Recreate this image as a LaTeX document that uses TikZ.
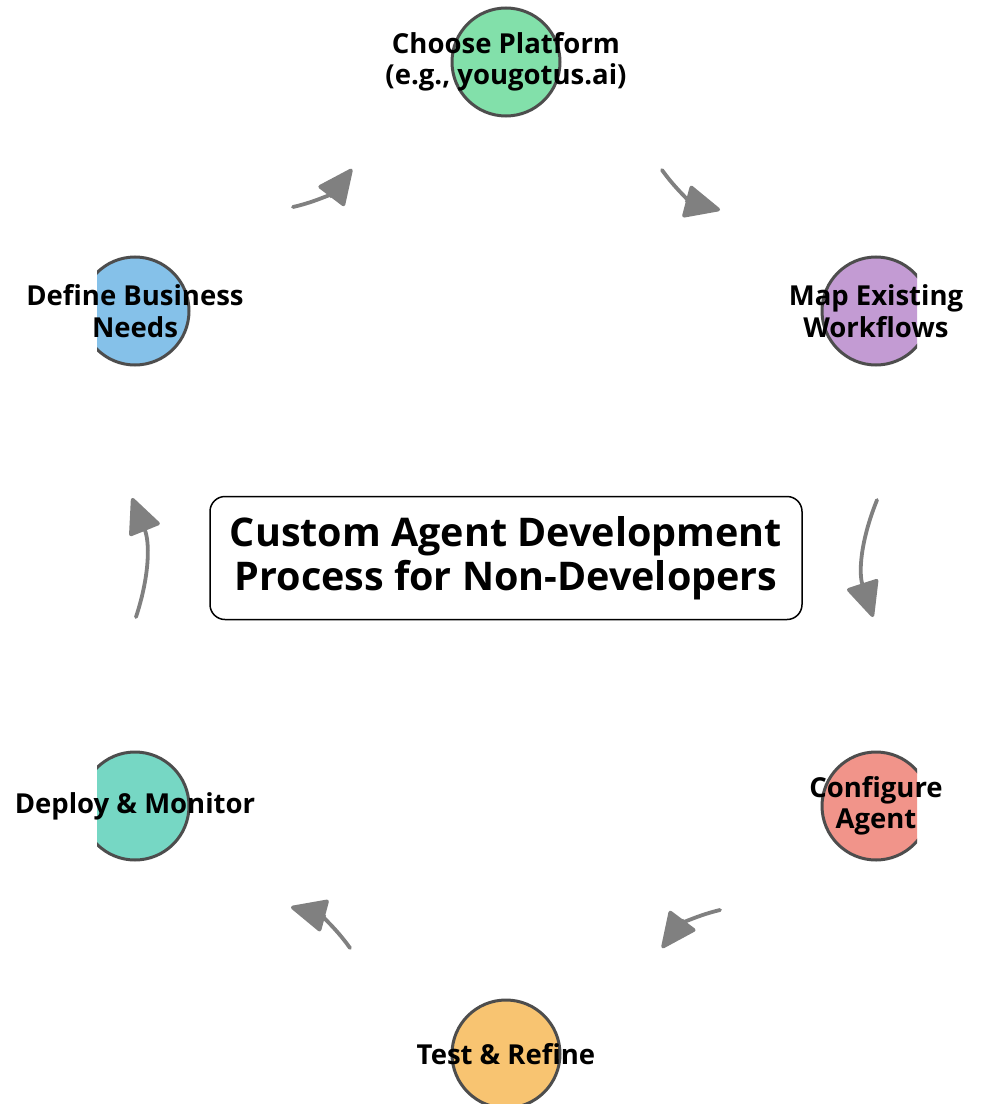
\documentclass[tikz,border=0pt]{standalone}
\usepackage{fontspec}
\setmainfont{Open Sans}
\usetikzlibrary{arrows.meta}

\definecolor{platgreen}{HTML}{82E0AA}
\definecolor{mappurple}{HTML}{C39BD3}
\definecolor{confred}{HTML}{F1948A}
\definecolor{testorange}{HTML}{F8C471}
\definecolor{deployteal}{HTML}{76D7C4}
\definecolor{needsblue}{HTML}{85C1E9}
\definecolor{rimgray}{HTML}{4D4D4D}
\definecolor{flowgray}{HTML}{808080}

\tikzset{
  stage/.style={draw=rimgray, circle, line width=3pt, minimum size=108pt, inner sep=0pt},
  stagetext/.style={align=center, font=\fontsize{27.5}{31.5}\selectfont\bfseries},
  flow/.style={draw=flowgray, line width=3.8pt, line cap=round,
    -{Triangle[length=38pt,width=34pt,round]}},
  titlebox/.style={draw=black, line width=1.5pt, rounded corners=15pt, fill=white,
    minimum width=592pt, minimum height=123pt, align=center,
    font=\fontsize{39.5}{44}\selectfont\bfseries}
}

\begin{document}
\begin{tikzpicture}[x=1pt,y=-1pt]
  \useasboundingbox (0,0) rectangle (980,1118);
  % stage circles, cut by the plot area
  \begin{scope}
    \clip (97,0) rectangle (917,1103);
    \node[stage, fill=platgreen] (plat) at (506,62) {};
    \node[stage, fill=mappurple] (map) at (876,311) {};
    \node[stage, fill=confred] (conf) at (876,806) {};
    \node[stage, fill=testorange] (test) at (506,1054) {};
    \node[stage, fill=deployteal] (deploy) at (135,806) {};
    \node[stage, fill=needsblue] (needs) at (135,311) {};
  \end{scope}
  % labels
  \node[stagetext] (platT) at (plat) {Choose Platform\\(e.g., yougotus.ai)};
  \node[stagetext] (mapT) at (map) {Map Existing\\Workflows};
  \node[stagetext] (confT) at (conf) {Configure\\Agent};
  \node[stagetext] (testT) at (test) {Test \& Refine};
  \node[stagetext] (deployT) at (deploy) {Deploy \& Monitor};
  \node[stagetext] (needsT) at (needs) {Define Business\\Needs};
  % centre title
  \node[titlebox] (title) at (506,558) {Custom Agent Development\\Process for Non-Developers};
  % arrows
  \coordinate (a1s) at (293,207); \coordinate (a1e) at (352,169);
  \coordinate (a2s) at (662,170); \coordinate (a2e) at (720,210);
  \coordinate (a3s) at (877,500); \coordinate (a3e) at (873,617);
  \coordinate (a4s) at (720,910); \coordinate (a4e) at (662,948);
  \coordinate (a5s) at (350,948); \coordinate (a5e) at (291,907);
  \coordinate (a6s) at (136,617); \coordinate (a6e) at (132,498);
  \draw[flow] (a1s) to[bend right=20] (a1e);
  \draw[flow] (a2s) to[bend right=20] (a2e);
  \draw[flow] (a3s) to[bend right=20] (a3e);
  \draw[flow] (a4s) to[bend right=20] (a4e);
  \draw[flow] (a5s) to[bend right=20] (a5e);
  \draw[flow] (a6s) to[bend right=20] (a6e);
\end{tikzpicture}
\end{document}
